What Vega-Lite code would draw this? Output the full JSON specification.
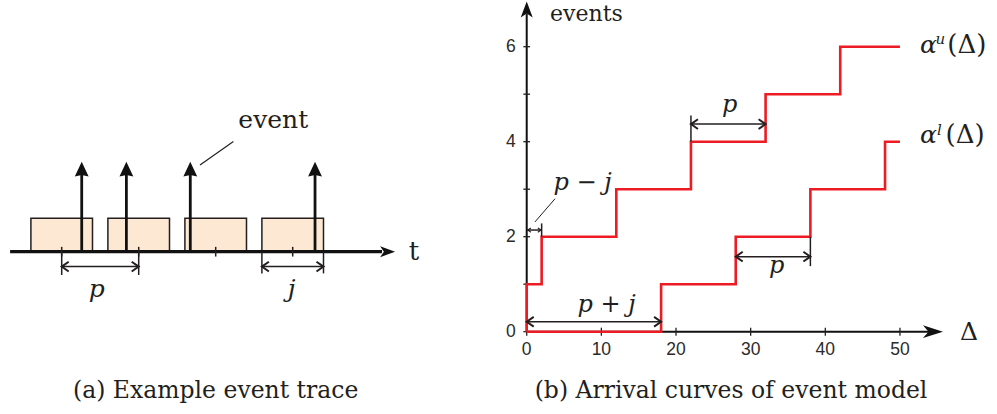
{
  "$schema": "https://vega.github.io/schema/vega-lite/v6.json",
  "width": 997,
  "height": 414,
  "padding": 0,
  "autosize": {"type": "fit", "contains": "padding"},
  "background": "white",
  "config": {"view": {"stroke": null}},
  "datasets": {
    "trace_axis": [{"t": 3.3, "v": 0, "t2": 51.6, "v2": 0}],
    "trace_tip": [{"t": 53.3, "v": 0}],
    "windows": [
      {"t": 6, "t2": 14, "v": 0, "v2": 1.03},
      {"t": 16, "t2": 24, "v": 0, "v2": 1.03},
      {"t": 26, "t2": 34, "v": 0, "v2": 1.03},
      {"t": 36, "t2": 44, "v": 0, "v2": 1.03}
    ],
    "trace_ticks": [
      {"t": 10, "v": -0.15, "v2": 0.15},
      {"t": 20, "v": -0.15, "v2": 0.15},
      {"t": 30, "v": -0.15, "v2": 0.15},
      {"t": 40, "v": -0.15, "v2": 0.15}
    ],
    "events": [
      {"t": 12.6, "v": 0, "v2": 2.45, "top": 2.78},
      {"t": 18.4, "v": 0, "v2": 2.45, "top": 2.78},
      {"t": 26.7, "v": 0, "v2": 2.45, "top": 2.78},
      {"t": 42.9, "v": 0, "v2": 2.45, "top": 2.78}
    ],
    "trace_dims": [
      {"t": 10, "v": 0, "t2": 10, "v2": -0.72},
      {"t": 20, "v": 0, "t2": 20, "v2": -0.72},
      {"t": 10, "v": -0.46, "t2": 20, "v2": -0.46},
      {"t": 36, "v": 0, "t2": 36, "v2": -0.67},
      {"t": 44, "v": 0, "t2": 44, "v2": -0.67},
      {"t": 36, "v": -0.46, "t2": 44, "v2": -0.46}
    ],
    "trace_heads": [
      {"t": 10, "v": -0.46, "dir": "left"},
      {"t": 20, "v": -0.46, "dir": "right"},
      {"t": 36, "v": -0.46, "dir": "left"},
      {"t": 44, "v": -0.46, "dir": "right"}
    ],
    "trace_leader": [{"t": 27.96, "v": 2.68, "t2": 32.3, "v2": 3.4}],
    "trace_italic": [
      {"t": 14.55, "v": -1.39, "label": "p"},
      {"t": 39.87, "v": -1.39, "label": "j"}
    ],
    "trace_event_label": [{"t": 37.48, "v": 3.81, "label": "event"}],
    "trace_t_label": [{"t": 55.75, "v": -0.26, "label": "t"}],
    "caption_a": [{"t": 30.0, "v": -4.52, "label": "(a) Example event trace"}],

    "arr_axes": [
      {"d": 0, "n": 0, "d2": 54.2, "n2": 0},
      {"d": 0, "n": 0, "d2": 0, "n2": 6.7}
    ],
    "arr_tip_x": [{"d": 55.76, "n": 0}],
    "arr_tip_y": [{"d": 0, "n": 6.95}],
    "arr_yticks": [
      {"n": 0, "d": -0.45, "d2": 0.45},
      {"n": 1, "d": -0.45, "d2": 0.45},
      {"n": 2, "d": -0.45, "d2": 0.45},
      {"n": 3, "d": -0.45, "d2": 0.45},
      {"n": 4, "d": -0.45, "d2": 0.45},
      {"n": 5, "d": -0.45, "d2": 0.45},
      {"n": 6, "d": -0.45, "d2": 0.45}
    ],
    "arr_xticks": [
      {"d": 0, "n": -0.085, "n2": 0.085},
      {"d": 10, "n": -0.085, "n2": 0.085},
      {"d": 20, "n": -0.085, "n2": 0.085},
      {"d": 30, "n": -0.085, "n2": 0.085},
      {"d": 40, "n": -0.085, "n2": 0.085},
      {"d": 50, "n": -0.085, "n2": 0.085}
    ],
    "arr_ylabels": [
      {"d": 0, "n": 0}, {"d": 0, "n": 2}, {"d": 0, "n": 4}, {"d": 0, "n": 6}
    ],
    "arr_xlabels": [
      {"d": 0, "n": 0}, {"d": 10, "n": 0}, {"d": 20, "n": 0},
      {"d": 30, "n": 0}, {"d": 40, "n": 0}, {"d": 50, "n": 0}
    ],
    "curves": [
      {"curve": "upper", "d": 0, "n": 0},
      {"curve": "upper", "d": 0, "n": 1},
      {"curve": "upper", "d": 2, "n": 2},
      {"curve": "upper", "d": 12, "n": 3},
      {"curve": "upper", "d": 22, "n": 4},
      {"curve": "upper", "d": 32, "n": 5},
      {"curve": "upper", "d": 42, "n": 6},
      {"curve": "upper", "d": 50, "n": 6},
      {"curve": "lower", "d": 0, "n": 0},
      {"curve": "lower", "d": 18, "n": 1},
      {"curve": "lower", "d": 28, "n": 2},
      {"curve": "lower", "d": 38, "n": 3},
      {"curve": "lower", "d": 48, "n": 4},
      {"curve": "lower", "d": 50, "n": 4}
    ],
    "arr_dims": [
      {"d": 22, "n": 4.37, "d2": 32, "n2": 4.37},
      {"d": 22, "n": 4, "d2": 22, "n2": 4.55},
      {"d": 28, "n": 1.58, "d2": 38, "n2": 1.58},
      {"d": 38, "n": 2, "d2": 38, "n2": 1.38},
      {"d": 0, "n": 0.21, "d2": 18, "n2": 0.21},
      {"d": 0, "n": 2.14, "d2": 2, "n2": 2.14},
      {"d": 2, "n": 2, "d2": 2, "n2": 2.28}
    ],
    "arr_heads": [
      {"d": 22, "n": 4.37, "dir": "left"},
      {"d": 32, "n": 4.37, "dir": "right"},
      {"d": 28, "n": 1.58, "dir": "left"},
      {"d": 38, "n": 1.58, "dir": "right"},
      {"d": 0, "n": 0.21, "dir": "left"},
      {"d": 18, "n": 0.21, "dir": "right"}
    ],
    "arr_small_heads": [
      {"d": 0.15, "n": 2.14, "dir": "left"},
      {"d": 1.9, "n": 2.14, "dir": "right"}
    ],
    "arr_leader": [{"d": 1.1, "n": 2.31, "d2": 3.8, "n2": 2.8}],
    "arr_italic": [
      {"d": 27.2, "n": 4.63, "label": "p"},
      {"d": 33.5, "n": 1.23, "label": "p"},
      {"d": 10.7, "n": 0.42, "label": "p + j"},
      {"d": 7.47, "n": 2.98, "label": "p − j"}
    ],
    "arr_events_label": [{"d": 3.12, "n": 6.54, "label": "events"}],
    "arr_delta_label": [{"d": 59.25, "n": -0.175, "label": "Δ"}],
    "alpha": [
      {"d": 52.7, "n": 5.87, "label": "α"},
      {"d": 52.7, "n": 3.97, "label": "α"}
    ],
    "alpha_sup": [
      {"d": 54.75, "n": 6.06, "label": "u"},
      {"d": 54.95, "n": 4.14, "label": "l"}
    ],
    "alpha_arg": [
      {"d": 56.35, "n": 5.86, "label": "(Δ)"},
      {"d": 56.1, "n": 3.97, "label": "(Δ)"}
    ],
    "caption_b": [{"d": 27.37, "n": -1.4, "label": "(b) Arrival curves of event model"}]
  },
  "layer": [
    {
      "encoding": {
        "x": {"field": "t", "type": "quantitative", "scale": {"domain": [1.987, 131.47], "nice": false, "zero": false}, "axis": null},
        "y": {"field": "v", "type": "quantitative", "scale": {"domain": [-5.01, 7.77], "nice": false, "zero": false}, "axis": null}
      },
      "layer": [
        {
          "data": {"name": "windows"},
          "mark": {"type": "rect", "fill": "#fde8d4", "fillOpacity": 1, "stroke": "#231f20", "strokeOpacity": 1, "strokeWidth": 1.5},
          "encoding": {"x2": {"field": "t2"}, "y2": {"field": "v2"}}
        },
        {
          "data": {"name": "trace_axis"},
          "mark": {"type": "rule", "color": "#111111", "strokeWidth": 3.2},
          "encoding": {"x2": {"field": "t2"}, "y2": {"field": "v2"}}
        },
        {
          "data": {"name": "trace_tip"},
          "mark": {"type": "point", "filled": true, "color": "#111111", "opacity": 1, "size": 56, "shape": "M0,0L-4,-1.45L-3,0L-4,1.45Z"}
        },
        {
          "data": {"name": "trace_ticks"},
          "mark": {"type": "rule", "color": "#231f20", "strokeWidth": 1.5},
          "encoding": {"y2": {"field": "v2"}}
        },
        {
          "data": {"name": "trace_dims"},
          "mark": {"type": "rule", "color": "#231f20", "strokeWidth": 1.5},
          "encoding": {"x2": {"field": "t2"}, "y2": {"field": "v2"}}
        },
        {
          "data": {"name": "trace_heads"},
          "transform": [{"filter": "datum.dir == 'left'"}],
          "mark": {"type": "point", "filled": false, "color": "#231f20", "strokeWidth": 2, "opacity": 1, "size": 49, "shape": "M2,-1.4L0,0L2,1.4"}
        },
        {
          "data": {"name": "trace_heads"},
          "transform": [{"filter": "datum.dir == 'right'"}],
          "mark": {"type": "point", "filled": false, "color": "#231f20", "strokeWidth": 2, "opacity": 1, "size": 49, "shape": "M-2,-1.4L0,0L-2,1.4"}
        },
        {
          "data": {"name": "events"},
          "mark": {"type": "rule", "color": "#111111", "strokeWidth": 2.8},
          "encoding": {"y2": {"field": "v2"}}
        },
        {
          "data": {"name": "events"},
          "mark": {"type": "point", "filled": true, "color": "#111111", "opacity": 1, "size": 56, "shape": "M0,0L-1.85,4L0,3.6L1.85,4Z"},
          "encoding": {"y": {"field": "top", "type": "quantitative"}}
        },
        {
          "data": {"name": "trace_leader"},
          "mark": {"type": "rule", "color": "#231f20", "strokeWidth": 1.2},
          "encoding": {"x2": {"field": "t2"}, "y2": {"field": "v2"}}
        },
        {
          "data": {"name": "trace_italic"},
          "mark": {"type": "text", "font": "DejaVu Serif", "fontStyle": "italic", "fontSize": 25, "color": "#231f20", "baseline": "alphabetic", "align": "center"},
          "encoding": {"text": {"field": "label"}}
        },
        {
          "data": {"name": "trace_event_label"},
          "mark": {"type": "text", "font": "DejaVu Serif", "fontSize": 25, "color": "#231f20", "baseline": "alphabetic", "align": "center"},
          "encoding": {"text": {"field": "label"}}
        },
        {
          "data": {"name": "trace_t_label"},
          "mark": {"type": "text", "font": "DejaVu Serif", "fontSize": 26, "color": "#231f20", "baseline": "alphabetic", "align": "center"},
          "encoding": {"text": {"field": "label"}}
        },
        {
          "data": {"name": "caption_a"},
          "mark": {"type": "text", "font": "DejaVu Serif", "fontSize": 23.5, "color": "#231f20", "baseline": "alphabetic", "align": "center"},
          "encoding": {"text": {"field": "label"}}
        }
      ]
    },
    {
      "encoding": {
        "x": {"field": "d", "type": "quantitative", "scale": {"domain": [-70.56, 63.0], "nice": false, "zero": false}, "axis": null},
        "y": {"field": "n", "type": "quantitative", "scale": {"domain": [-1.733, 6.983], "nice": false, "zero": false}, "axis": null}
      },
      "layer": [
        {
          "data": {"name": "arr_axes"},
          "mark": {"type": "rule", "color": "#111111", "strokeWidth": 2},
          "encoding": {"x2": {"field": "d2"}, "y2": {"field": "n2"}}
        },
        {
          "data": {"name": "arr_tip_x"},
          "mark": {"type": "point", "filled": true, "color": "#111111", "opacity": 1, "size": 64, "shape": "M0,0L-5,-1.6L-3.6,0L-5,1.6Z"}
        },
        {
          "data": {"name": "arr_tip_y"},
          "mark": {"type": "point", "filled": true, "color": "#111111", "opacity": 1, "size": 64, "shape": "M0,0L-1.5,4L0,3L1.5,4Z"}
        },
        {
          "data": {"name": "arr_yticks"},
          "mark": {"type": "rule", "color": "#231f20", "strokeWidth": 1.3},
          "encoding": {"x2": {"field": "d2"}}
        },
        {
          "data": {"name": "arr_xticks"},
          "mark": {"type": "rule", "color": "#231f20", "strokeWidth": 1.3},
          "encoding": {"y2": {"field": "n2"}}
        },
        {
          "data": {"name": "arr_ylabels"},
          "mark": {"type": "text", "font": "Liberation Sans", "fontSize": 17.5, "color": "#2b2b2b", "align": "right", "baseline": "middle", "dx": -11},
          "encoding": {"text": {"field": "n", "type": "quantitative"}}
        },
        {
          "data": {"name": "arr_xlabels"},
          "mark": {"type": "text", "font": "Liberation Sans", "fontSize": 17.5, "color": "#2b2b2b", "align": "center", "baseline": "middle", "dy": 18},
          "encoding": {"text": {"field": "d", "type": "quantitative"}}
        },
        {
          "data": {"name": "curves"},
          "mark": {"type": "line", "color": "#ed1c24", "strokeWidth": 2.6, "interpolate": "step-after"},
          "encoding": {
            "detail": {"field": "curve"},
            "order": [{"field": "d", "type": "quantitative"}, {"field": "n", "type": "quantitative"}]
          }
        },
        {
          "data": {"name": "arr_dims"},
          "mark": {"type": "rule", "color": "#231f20", "strokeWidth": 1.5},
          "encoding": {"x2": {"field": "d2"}, "y2": {"field": "n2"}}
        },
        {
          "data": {"name": "arr_heads"},
          "transform": [{"filter": "datum.dir == 'left'"}],
          "mark": {"type": "point", "filled": false, "color": "#231f20", "strokeWidth": 2, "opacity": 1, "size": 49, "shape": "M2,-1.4L0,0L2,1.4"}
        },
        {
          "data": {"name": "arr_heads"},
          "transform": [{"filter": "datum.dir == 'right'"}],
          "mark": {"type": "point", "filled": false, "color": "#231f20", "strokeWidth": 2, "opacity": 1, "size": 49, "shape": "M-2,-1.4L0,0L-2,1.4"}
        },
        {
          "data": {"name": "arr_small_heads"},
          "transform": [{"filter": "datum.dir == 'left'"}],
          "mark": {"type": "point", "filled": false, "color": "#231f20", "strokeWidth": 1.2, "opacity": 1, "size": 9, "shape": "M2,-1.4L0,0L2,1.4"}
        },
        {
          "data": {"name": "arr_small_heads"},
          "transform": [{"filter": "datum.dir == 'right'"}],
          "mark": {"type": "point", "filled": false, "color": "#231f20", "strokeWidth": 1.2, "opacity": 1, "size": 9, "shape": "M-2,-1.4L0,0L-2,1.4"}
        },
        {
          "data": {"name": "arr_leader"},
          "mark": {"type": "rule", "color": "#231f20", "strokeWidth": 1},
          "encoding": {"x2": {"field": "d2"}, "y2": {"field": "n2"}}
        },
        {
          "data": {"name": "arr_italic"},
          "mark": {"type": "text", "font": "DejaVu Serif", "fontStyle": "italic", "fontSize": 24, "color": "#231f20", "baseline": "alphabetic", "align": "center"},
          "encoding": {"text": {"field": "label"}}
        },
        {
          "data": {"name": "arr_events_label"},
          "mark": {"type": "text", "font": "DejaVu Serif", "fontSize": 22, "color": "#231f20", "baseline": "alphabetic", "align": "left"},
          "encoding": {"text": {"field": "label"}}
        },
        {
          "data": {"name": "arr_delta_label"},
          "mark": {"type": "text", "font": "DejaVu Serif", "fontSize": 25, "color": "#231f20", "baseline": "alphabetic", "align": "center"},
          "encoding": {"text": {"field": "label"}}
        },
        {
          "data": {"name": "alpha"},
          "mark": {"type": "text", "font": "DejaVu Serif", "fontStyle": "italic", "fontSize": 25, "color": "#231f20", "baseline": "alphabetic", "align": "left"},
          "encoding": {"text": {"field": "label"}}
        },
        {
          "data": {"name": "alpha_sup"},
          "mark": {"type": "text", "font": "DejaVu Serif", "fontStyle": "italic", "fontSize": 15, "color": "#231f20", "baseline": "alphabetic", "align": "left"},
          "encoding": {"text": {"field": "label"}}
        },
        {
          "data": {"name": "alpha_arg"},
          "mark": {"type": "text", "font": "DejaVu Serif", "fontSize": 26, "color": "#231f20", "baseline": "alphabetic", "align": "left"},
          "encoding": {"text": {"field": "label"}}
        },
        {
          "data": {"name": "caption_b"},
          "mark": {"type": "text", "font": "DejaVu Serif", "fontSize": 23.5, "color": "#231f20", "baseline": "alphabetic", "align": "center"},
          "encoding": {"text": {"field": "label"}}
        }
      ]
    }
  ],
  "resolve": {"scale": {"x": "independent", "y": "independent"}}
}
